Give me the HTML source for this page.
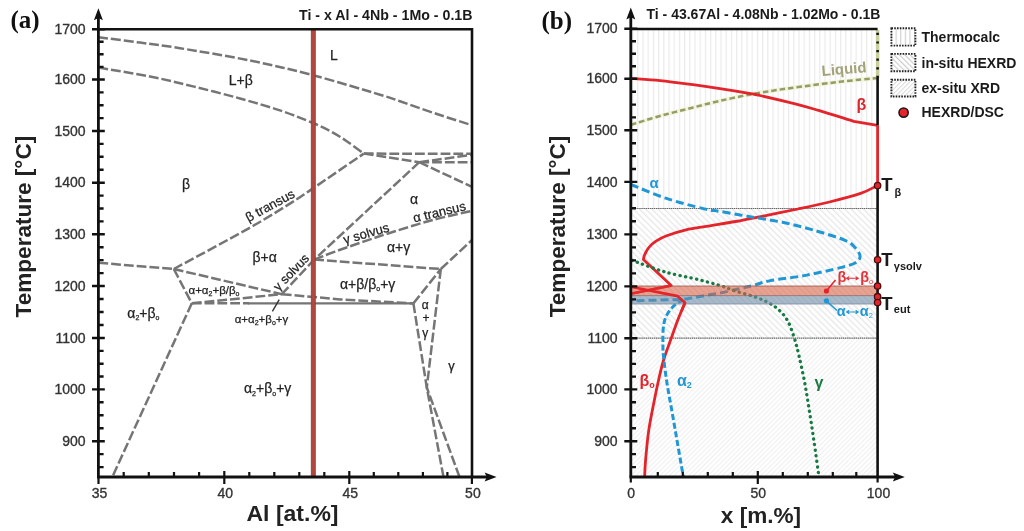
<!DOCTYPE html>
<html><head><meta charset="utf-8"><title>Phase diagram</title>
<style>html,body{margin:0;padding:0;background:#fff;width:1024px;height:531px;overflow:hidden} svg{display:block;will-change:transform}</style>
</head><body>
<svg width="1024" height="531" viewBox="0 0 1024 531">
<defs>
 <pattern id="hv" patternUnits="userSpaceOnUse" width="5.2" height="10" x="632">
   <rect x="0" y="0" width="1.2" height="10" fill="#ebebeb"/>
 </pattern>
 <pattern id="hd" patternUnits="userSpaceOnUse" width="4.4" height="4.4" patternTransform="rotate(-45)">
   <rect x="0" y="0" width="1.4" height="4.4" fill="#e9e9e9"/>
 </pattern>
 <pattern id="hx" patternUnits="userSpaceOnUse" width="3.4" height="3.4" patternTransform="rotate(45)">
   <rect x="0" y="0" width="1.1" height="3.4" fill="#efefef"/>
 </pattern>
 <pattern id="lv" patternUnits="userSpaceOnUse" width="4.6" height="10" x="891">
   <rect x="0" y="0" width="1.1" height="10" fill="#cfcfcf"/>
 </pattern>
 <pattern id="ld" patternUnits="userSpaceOnUse" width="3.8" height="3.8" patternTransform="rotate(-45)">
   <rect x="0" y="0" width="1.2" height="3.8" fill="#cdcdcd"/>
 </pattern>
 <pattern id="lx" patternUnits="userSpaceOnUse" width="3.2" height="3.2" patternTransform="rotate(45)">
   <rect x="0" y="0" width="1" height="3.2" fill="#dadada"/>
 </pattern>
</defs>
<text x="10.5" y="27.5" font-family="'Liberation Serif', serif" font-weight="bold" font-size="25" fill="#111">(a)</text>
<text x="472.5" y="19.5" text-anchor="end" font-family="'Liberation Sans', sans-serif" font-weight="bold" font-size="14.2" fill="#1a1a1a">Ti - x Al - 4Nb - 1Mo - 0.1B</text>
<path d="M98.4,37.2 C105.3,38.1 126.4,40.8 140,42.6 C153.6,44.4 161.7,45.2 180,48.2 C198.3,51.2 227.8,56 250,60.5 C272.2,65 291.3,69.5 313,75.2 C334.7,80.9 365.5,90.4 380,94.7 C394.5,99 390.4,98 400,101.3 C409.6,104.6 425.7,110.3 437.7,114.3 C449.7,118.3 466.3,123.4 472,125.2" fill="none" stroke="#757575" stroke-width="2.5" stroke-dasharray="9.8 3"/>
<path d="M98.4,67.6 C107,69.1 134.1,73.3 150,76.5 C165.9,79.7 179,82.9 194,86.6 C209,90.3 225.7,94.5 240,98.5 C254.3,102.5 267.8,106.3 280,110.4 C292.2,114.5 304.7,119.6 313,123 C321.3,126.4 324.5,128.1 330,131 C335.5,133.9 340.4,136.9 346,140.7 C351.6,144.5 360.8,151.4 363.8,153.6" fill="none" stroke="#757575" stroke-width="2.5" stroke-dasharray="9.8 3"/>
<path d="M173.8,269 C186.3,262.2 228.5,239.8 248.8,228.3 C269.1,216.8 285.1,206.6 295.8,199.9 C306.5,193.2 301.7,196.1 313,188.4 C324.3,180.7 355.3,159.4 363.8,153.6" fill="none" stroke="#757575" stroke-width="2.5" stroke-dasharray="9.8 3"/>
<path d="M363.8,153.6 L472,153.8" fill="none" stroke="#757575" stroke-width="2.5" stroke-dasharray="9.8 3"/>
<path d="M363.8,153.6 L419.3,162.2" fill="none" stroke="#757575" stroke-width="2.5" stroke-dasharray="9.8 3"/>
<path d="M419.3,162.2 L472,162.2" fill="none" stroke="#757575" stroke-width="2.5" stroke-dasharray="9.8 3"/>
<path d="M419.3,162.2 L472,154.8" fill="none" stroke="#757575" stroke-width="2.5" stroke-dasharray="9.8 3"/>
<path d="M419.3,162.2 L472,186.9" fill="none" stroke="#757575" stroke-width="2.5" stroke-dasharray="9.8 3"/>
<path d="M419.3,162.2 L314.2,259.6" fill="none" stroke="#757575" stroke-width="2.5" stroke-dasharray="9.8 3"/>
<path d="M314.2,259.6 C317.7,258.3 326.5,254.7 335,251.6 C343.5,248.5 355,244.5 365,241.1 C375,237.7 383.5,234.9 395,231.3 C406.5,227.7 421.2,223 434,219.6 C446.8,216.2 465.7,212.3 472,210.9" fill="none" stroke="#757575" stroke-width="2.5" stroke-dasharray="9.8 3"/>
<path d="M314.2,259.6 L440.8,269" fill="none" stroke="#757575" stroke-width="2.5" stroke-dasharray="9.8 3"/>
<path d="M440.8,269 L472,240" fill="none" stroke="#757575" stroke-width="2.5" stroke-dasharray="9.8 3"/>
<path d="M440.8,269 L426.8,387.5 L459.5,477" fill="none" stroke="#757575" stroke-width="2.5" stroke-dasharray="9.8 3"/>
<path d="M413.4,303.4 L440.8,269" fill="none" stroke="#757575" stroke-width="2.5" stroke-dasharray="9.8 3"/>
<path d="M413.4,303.4 L426.8,387.5 L443.5,477" fill="none" stroke="#757575" stroke-width="2.5" stroke-dasharray="9.8 3"/>
<path d="M98.4,262.8 L173.8,269" fill="none" stroke="#757575" stroke-width="2.5" stroke-dasharray="9.8 3"/>
<path d="M173.8,269 L281.8,294.2" fill="none" stroke="#757575" stroke-width="2.5" stroke-dasharray="9.8 3"/>
<path d="M173.8,269 L191.8,303.3" fill="none" stroke="#757575" stroke-width="2.5" stroke-dasharray="9.8 3"/>
<path d="M191.8,303.3 L281.8,294.2" fill="none" stroke="#757575" stroke-width="2.5" stroke-dasharray="9.8 3"/>
<path d="M281.8,294.2 L314.2,259.6" fill="none" stroke="#757575" stroke-width="2.5" stroke-dasharray="9.8 3"/>
<path d="M281.8,294.2 L340,299.4 L413.4,303.4" fill="none" stroke="#757575" stroke-width="2.5" stroke-dasharray="9.8 3"/>
<path d="M191.8,303.3 L112.3,477" fill="none" stroke="#757575" stroke-width="2.5" stroke-dasharray="9.8 3"/>
<path d="M191.8,303.3 L249,303.3" fill="none" stroke="#757575" stroke-width="2.5" stroke-dasharray="9.8 3"/>
<path d="M248,303.3 L413.4,303.4" stroke="#757575" stroke-width="2.2" fill="none"/>
<path d="M272.4,311.4 L279.2,299.7" stroke="#333" stroke-width="1.4" fill="none"/>
<rect x="311.2" y="29.2" width="4.1" height="447.8" fill="#b0483f" stroke="#8a3631" stroke-width="0.7"/>
<path d="M98.4,477 L98.4,15" stroke="#111" stroke-width="2.8" fill="none"/>
<path d="M98.4,8.3 L102.9,20.3 L98.4,18 L93.9,20.3 Z" fill="#111"/>
<path d="M97,477 L490,477" stroke="#111" stroke-width="2.8" fill="none"/>
<path d="M496.6,477 L484.6,481.5 L486.9,477 L484.6,472.5 Z" fill="#111"/>
<path d="M98.4,29.2 L472,29.2 L472,477" stroke="#111" stroke-width="2.6" fill="none"/>
<path d="M92,29.2 L104.8,29.2 M92,79.5 L104.8,79.5 M92,131 L104.8,131 M92,182.7 L104.8,182.7 M92,234.3 L104.8,234.3 M92,286 L104.8,286 M92,338 L104.8,338 M92,389.4 L104.8,389.4 M92,441.2 L104.8,441.2 M98.4,41.8 L103.6,41.8 M98.4,54.3 L103.6,54.3 M98.4,66.9 L103.6,66.9 M98.4,92.4 L103.6,92.4 M98.4,105.2 L103.6,105.2 M98.4,118.1 L103.6,118.1 M98.4,143.9 L103.6,143.9 M98.4,156.8 L103.6,156.8 M98.4,169.8 L103.6,169.8 M98.4,195.6 L103.6,195.6 M98.4,208.5 L103.6,208.5 M98.4,221.4 L103.6,221.4 M98.4,247.2 L103.6,247.2 M98.4,260.1 L103.6,260.1 M98.4,273.1 L103.6,273.1 M98.4,299 L103.6,299 M98.4,312 L103.6,312 M98.4,325 L103.6,325 M98.4,350.9 L103.6,350.9 M98.4,363.7 L103.6,363.7 M98.4,376.5 L103.6,376.5 M98.4,402.3 L103.6,402.3 M98.4,415.3 L103.6,415.3 M98.4,428.2 L103.6,428.2 M98.4,454.1 L103.6,454.1 M98.4,467.1 L103.6,467.1" stroke="#111" stroke-width="2.4" fill="none"/>
<path d="M224.3,471 L224.3,484 M349.3,471 L349.3,484 M98.5,477 L98.5,484 M471.9,477 L471.9,484 M123.7,477 L123.7,472 M148.8,477 L148.8,472 M174,477 L174,472 M199.1,477 L199.1,472 M249.3,477 L249.3,472 M274.3,477 L274.3,472 M299.3,477 L299.3,472 M324.3,477 L324.3,472 M373.8,477 L373.8,472 M398.3,477 L398.3,472 M422.9,477 L422.9,472 M447.4,477 L447.4,472" stroke="#111" stroke-width="2.2" fill="none"/>
<text x="85.6" y="33.8" text-anchor="end" font-family="'Liberation Sans', sans-serif" font-size="14" fill="#333" stroke="#333" stroke-width="0.35">1700</text>
<text x="85.6" y="84.1" text-anchor="end" font-family="'Liberation Sans', sans-serif" font-size="14" fill="#333" stroke="#333" stroke-width="0.35">1600</text>
<text x="85.6" y="135.6" text-anchor="end" font-family="'Liberation Sans', sans-serif" font-size="14" fill="#333" stroke="#333" stroke-width="0.35">1500</text>
<text x="85.6" y="187.3" text-anchor="end" font-family="'Liberation Sans', sans-serif" font-size="14" fill="#333" stroke="#333" stroke-width="0.35">1400</text>
<text x="85.6" y="238.9" text-anchor="end" font-family="'Liberation Sans', sans-serif" font-size="14" fill="#333" stroke="#333" stroke-width="0.35">1300</text>
<text x="85.6" y="290.6" text-anchor="end" font-family="'Liberation Sans', sans-serif" font-size="14" fill="#333" stroke="#333" stroke-width="0.35">1200</text>
<text x="85.6" y="342.6" text-anchor="end" font-family="'Liberation Sans', sans-serif" font-size="14" fill="#333" stroke="#333" stroke-width="0.35">1100</text>
<text x="85.6" y="394" text-anchor="end" font-family="'Liberation Sans', sans-serif" font-size="14" fill="#333" stroke="#333" stroke-width="0.35">1000</text>
<text x="85.6" y="445.8" text-anchor="end" font-family="'Liberation Sans', sans-serif" font-size="14" fill="#333" stroke="#333" stroke-width="0.35">900</text>
<text x="99.5" y="498.3" text-anchor="middle" font-family="'Liberation Sans', sans-serif" font-size="14" fill="#333" stroke="#333" stroke-width="0.35">35</text>
<text x="225.3" y="498.3" text-anchor="middle" font-family="'Liberation Sans', sans-serif" font-size="14" fill="#333" stroke="#333" stroke-width="0.35">40</text>
<text x="350.3" y="498.3" text-anchor="middle" font-family="'Liberation Sans', sans-serif" font-size="14" fill="#333" stroke="#333" stroke-width="0.35">45</text>
<text x="472.9" y="498.3" text-anchor="middle" font-family="'Liberation Sans', sans-serif" font-size="14" fill="#333" stroke="#333" stroke-width="0.35">50</text>
<text x="292.5" y="521" text-anchor="middle" textLength="92" lengthAdjust="spacingAndGlyphs" font-family="'Liberation Sans', sans-serif" font-weight="bold" font-size="22" fill="#222">Al [at.%]</text>
<text transform="translate(31,226.6) rotate(-90)" text-anchor="middle" textLength="181.6" lengthAdjust="spacingAndGlyphs" font-family="'Liberation Sans', sans-serif" font-weight="bold" font-size="21.5" fill="#222">Temperature [°C]</text>
<text x="330" y="60.2" font-family="'Liberation Sans', sans-serif" fill="#222" stroke="#222" stroke-width="0.25" font-size="14">L</text>
<text x="228.8" y="85.2" font-family="'Liberation Sans', sans-serif" fill="#222" stroke="#222" stroke-width="0.25" font-size="14">L+β</text>
<text x="182" y="188.5" font-family="'Liberation Sans', sans-serif" fill="#222" stroke="#222" stroke-width="0.25" font-size="14">β</text>
<text x="252.5" y="261.6" font-family="'Liberation Sans', sans-serif" fill="#222" stroke="#222" stroke-width="0.25" font-size="14">β+α</text>
<text x="410" y="204" font-family="'Liberation Sans', sans-serif" fill="#222" stroke="#222" stroke-width="0.25" font-size="14">α</text>
<text x="387" y="251.8" font-family="'Liberation Sans', sans-serif" fill="#222" stroke="#222" stroke-width="0.25" font-size="14">α+γ</text>
<text x="451.5" y="370" text-anchor="middle" font-family="'Liberation Sans', sans-serif" fill="#222" stroke="#222" stroke-width="0.25" font-size="13">γ</text>
<text x="425.3" y="308.5" text-anchor="middle" font-family="'Liberation Sans', sans-serif" fill="#222" stroke="#222" stroke-width="0.25" font-size="12">α</text>
<text x="425.9" y="322" text-anchor="middle" font-family="'Liberation Sans', sans-serif" fill="#222" stroke="#222" stroke-width="0.25" font-size="12">+</text>
<text x="425.3" y="337" text-anchor="middle" font-family="'Liberation Sans', sans-serif" fill="#222" stroke="#222" stroke-width="0.25" font-size="12">γ</text>
<text x="127.3" y="317.6" font-family="'Liberation Sans', sans-serif" fill="#222" stroke="#222" stroke-width="0.25" font-size="14">α<tspan font-size="7" dy="2.5">2</tspan><tspan dy="-2.5">+β</tspan><tspan font-size="7" dy="2.5">o</tspan></text>
<text x="244" y="393.4" font-family="'Liberation Sans', sans-serif" fill="#222" stroke="#222" stroke-width="0.25" font-size="14">α<tspan font-size="7" dy="2.5">2</tspan><tspan dy="-2.5">+β</tspan><tspan font-size="7" dy="2.5">o</tspan><tspan dy="-2.5">+γ</tspan></text>
<text x="340" y="288.6" font-family="'Liberation Sans', sans-serif" fill="#222" stroke="#222" stroke-width="0.25" font-size="14">α+β/β<tspan font-size="7" dy="2.5">o</tspan><tspan dy="-2.5">+γ</tspan></text>
<text x="188.5" y="294.2" font-family="'Liberation Sans', sans-serif" fill="#222" stroke="#222" stroke-width="0.25" font-size="11.5">α+α<tspan font-size="7" dy="2">2</tspan><tspan dy="-2">+β/β</tspan><tspan font-size="7" dy="2">o</tspan></text>
<text x="234.7" y="323" font-family="'Liberation Sans', sans-serif" fill="#222" stroke="#222" stroke-width="0.25" font-size="11.5">α+α<tspan font-size="7" dy="2">2</tspan><tspan dy="-2">+β</tspan><tspan font-size="7" dy="2">o</tspan><tspan dy="-2">+γ</tspan></text>
<text transform="translate(248.5,222.2) rotate(-28.5)" font-family="'Liberation Sans', sans-serif" fill="#222" stroke="#222" stroke-width="0.25" font-size="13">β transus</text>
<text transform="translate(414.2,222.6) rotate(-13.5)" font-family="'Liberation Sans', sans-serif" fill="#222" stroke="#222" stroke-width="0.25" font-size="13">α transus</text>
<text transform="translate(344.8,244.2) rotate(-16)" font-family="'Liberation Sans', sans-serif" fill="#222" stroke="#222" stroke-width="0.25" font-size="13">γ solvus</text>
<text transform="translate(278.6,291.6) rotate(-46)" font-family="'Liberation Sans', sans-serif" fill="#222" stroke="#222" stroke-width="0.25" font-size="12.5">γ solvus</text>
<rect x="630.8" y="29" width="246.80000000000007" height="179.5" fill="url(#hv)"/>
<rect x="630.8" y="208.5" width="246.80000000000007" height="129.7" fill="url(#hd)"/>
<rect x="630.8" y="338.2" width="246.80000000000007" height="138.8" fill="url(#hx)"/>
<path d="M630.8,208.5 L877.6,208.5 M630.8,338.2 L877.6,338.2" stroke="#666" stroke-width="1.2" stroke-dasharray="1.5 0.6" fill="none"/>
<path d="M631,124.8 C635.8,123.3 650.1,118.8 660,116 C669.9,113.2 680.3,110.7 690.3,108.2 C700.3,105.7 710,103.1 720,100.8 C730,98.5 742.5,96 750.5,94.4 C758.5,92.8 759.8,92.7 768,91.4 C776.2,90.1 788,88.4 800,86.8 C812,85.2 827.1,83.3 840,81.8 C852.9,80.3 871.3,78.6 877.6,78" fill="none" stroke="#f2f4dc" stroke-width="4.4"/>
<path d="M631,124.8 C635.8,123.3 650.1,118.8 660,116 C669.9,113.2 680.3,110.7 690.3,108.2 C700.3,105.7 710,103.1 720,100.8 C730,98.5 742.5,96 750.5,94.4 C758.5,92.8 759.8,92.7 768,91.4 C776.2,90.1 788,88.4 800,86.8 C812,85.2 827.1,83.3 840,81.8 C852.9,80.3 871.3,78.6 877.6,78" fill="none" stroke="#949c68" stroke-width="2.5" stroke-dasharray="5.5 3"/>
<path d="M877.6,78 L877.6,30" stroke="#c9cf9c" stroke-width="3.5" fill="none"/>
<path d="M877.6,78 L877.6,30" stroke="#111" stroke-width="2.6" stroke-dasharray="2.2 6.4" fill="none"/>
<path d="M631,78.4 C635.8,78.8 649.4,79.5 660,80.6 C670.6,81.7 684.8,83.6 694.8,84.9 C704.8,86.2 710.7,87.1 720,88.6 C729.3,90 743.8,92.4 750.5,93.6 C757.2,94.8 752.5,93.8 760,95.5 C767.5,97.2 785.4,101.3 795.2,103.8 C805,106.3 808.8,107.5 818.6,110.4 C828.4,113.3 847.9,119.5 853.8,121.3 L877.6,125.4" fill="none" stroke="#e4242b" stroke-width="2.8"/>
<path d="M877.6,125.3 L877.6,185.6" stroke="#e4242b" stroke-width="2.8"/>
<path d="M877.2,185.6 C874.4,186.9 868.6,190.7 860.6,193.4 C852.6,196.1 839.8,199.4 829.4,202 C819,204.6 808.4,206.8 798,209 C787.6,211.2 777.3,213.2 766.9,215.3 C756.5,217.4 745.1,219.8 735.6,221.5 C726.1,223.2 718.3,224.4 710,225.8 C701.7,227.2 693.3,228.1 686,229.8 C678.7,231.5 671,234.1 666,236 C661,237.9 658.7,239.4 656,241.2 C653.3,243 651.3,244.8 649.6,246.6 C647.9,248.4 646.9,250.4 646,252 C645.1,253.6 644.6,254.8 644.2,256 C643.8,257.2 643.5,258.8 643.4,259.4 L671.2,285.6 L632,293.5" fill="none" stroke="#e4242b" stroke-width="2.8" stroke-linejoin="round"/>
<path d="M685,302.7 C683.8,305.6 680.2,313.8 677.8,320 C675.4,326.2 673,333.3 670.6,340 C668.2,346.7 665.6,353.3 663.6,360 C661.6,366.7 660.1,373.3 658.6,380 C657.1,386.7 656,391.7 654.4,400 C652.8,408.3 650.3,420 648.8,430 C647.3,440 646.3,452.2 645.6,460 C644.9,467.8 644.8,474.2 644.6,477" fill="none" stroke="#e4242b" stroke-width="2.8"/>
<path d="M631,184.5 C636.8,186.8 653.7,194.2 665.7,198.2 C677.8,202.2 694.2,206.4 703.3,208.6 C712.3,210.8 712,210 720,211.4 C728,212.8 740.9,215.1 751.3,216.9 C761.7,218.7 772.1,220.1 782.5,222.3 C792.9,224.5 803.4,227.2 813.8,230.2 C824.2,233.2 838.1,237.4 845,240.3 C851.9,243.2 852.5,244.9 855,247.5 C857.5,250.1 859.8,253.3 860,255.8 C860.2,258.3 859.2,260.5 856,262.5 C852.8,264.5 849,265.5 840.6,267.6 C832.2,269.8 817.2,273.2 805.5,275.4 C793.8,277.6 779.4,278.8 770.3,280.6 C761.2,282.4 758.3,284.2 751,286 C743.7,287.8 735.1,289.9 726.6,291.6 C718.1,293.4 707.2,295.2 700,296.5 C692.8,297.8 686.2,298.9 683.4,299.4 L632,300.8" fill="none" stroke="#1f97d4" stroke-width="3" stroke-dasharray="8 4"/>
<path d="M683.4,300 C682.2,300.7 678.6,301.8 676,304 C673.4,306.2 670.1,309.5 668,313 C665.9,316.5 664.5,319.7 663.6,325 C662.8,330.3 662.9,339.2 662.9,345 C662.9,350.8 663.3,354.2 663.9,360 C664.5,365.8 665.5,373.3 666.5,380 C667.5,386.7 668.4,391.7 669.9,400 C671.4,408.3 673.5,420 675.2,430 C677,440 679,452.2 680.4,460 C681.8,467.8 682.9,474.2 683.4,477" fill="none" stroke="#1f97d4" stroke-width="3" stroke-dasharray="6 2.8"/>
<path d="M632,260.4 C637.4,262.3 653.5,268.6 664.6,271.8 C675.7,275 689.6,277.4 698.8,279.7 C708,282 713.9,283.7 720,285.6 C726.1,287.5 729.8,289.2 735.2,291 C740.7,292.8 747.4,294.4 752.7,296.2 C758,298 762.8,299.7 767.2,302 C771.6,304.3 775.5,306.8 779,310 C782.5,313.2 785.5,316.8 788,321.5 C790.5,326.2 792.5,332.4 794.3,338 C796.1,343.6 797.1,348 798.8,355 C800.4,362 802.5,371.3 804.2,380 C805.9,388.7 807.2,397.3 808.8,407.3 C810.4,417.3 812.1,428.4 813.8,440 C815.5,451.6 818.1,470.8 819,477" fill="none" stroke="#187a42" stroke-width="3.3" stroke-dasharray="0.2 5.4" stroke-linecap="round"/>
<rect x="630.8" y="286" width="246.80000000000007" height="9.6" fill="rgb(217,100,72)" fill-opacity="0.6"/>
<rect x="630.8" y="295.6" width="246.80000000000007" height="8.4" fill="rgb(110,140,165)" fill-opacity="0.6"/>
<path d="M630.8,286 L877.6,286" stroke="#9a5548" stroke-width="1" opacity="0.8"/>
<path d="M630.8,295.6 L877.6,295.6" stroke="#8a6060" stroke-width="1" opacity="0.7"/>
<path d="M630.8,304 L877.6,304" stroke="#7a8aa0" stroke-width="1" opacity="0.8"/>
<path d="M671.2,285.6 L632,293.5" fill="none" stroke="#e4242b" stroke-width="2.6" opacity="0.85"/>
<path d="M632,287 L677.7,296.2 L685,302.7 L681.5,311" fill="none" stroke="#e4242b" stroke-width="2.8" stroke-linejoin="round"/>
<path d="M826.4,291 L835.5,280" stroke="#e4242b" stroke-width="1.6"/>
<circle cx="826.4" cy="291" r="2.6" fill="#e4242b"/>
<path d="M826.4,300.8 L837,310.5" stroke="#1f97d4" stroke-width="1.6"/>
<circle cx="826.4" cy="300.8" r="2.6" fill="#1f97d4"/>
<path d="M630.8,477 L630.8,14" stroke="#111" stroke-width="2.8" fill="none"/>
<path d="M630.8,7.5 L635.3,19.5 L630.8,17.2 L626.3,19.5 Z" fill="#111"/>
<path d="M629.5,477 L898,477" stroke="#111" stroke-width="2.8" fill="none"/>
<path d="M904.8,477 L892.8,481.5 L895.1,477 L892.8,472.5 Z" fill="#111"/>
<path d="M630.8,29 L877.6,29" stroke="#111" stroke-width="2.6" fill="none"/>
<path d="M877.6,78 L877.6,125.3 M877.6,185.6 L877.6,477" stroke="#111" stroke-width="2.6" fill="none"/>
<path d="M624.3,28.8 L637.3,28.8 M624.3,78.8 L637.3,78.8 M624.3,130.3 L637.3,130.3 M624.3,181.9 L637.3,181.9 M624.3,234.4 L637.3,234.4 M624.3,286.4 L637.3,286.4 M624.3,338.3 L637.3,338.3 M624.3,389.4 L637.3,389.4 M624.3,441.2 L637.3,441.2 M630.8,41.3 L636,41.3 M630.8,53.8 L636,53.8 M630.8,66.3 L636,66.3 M630.8,91.7 L636,91.7 M630.8,104.6 L636,104.6 M630.8,117.4 L636,117.4 M630.8,143.2 L636,143.2 M630.8,156.1 L636,156.1 M630.8,169 L636,169 M630.8,195 L636,195 M630.8,208.2 L636,208.2 M630.8,221.3 L636,221.3 M630.8,247.4 L636,247.4 M630.8,260.4 L636,260.4 M630.8,273.4 L636,273.4 M630.8,299.4 L636,299.4 M630.8,312.4 L636,312.4 M630.8,325.3 L636,325.3 M630.8,351.1 L636,351.1 M630.8,363.9 L636,363.9 M630.8,376.6 L636,376.6 M630.8,402.3 L636,402.3 M630.8,415.3 L636,415.3 M630.8,428.2 L636,428.2 M630.8,454.1 L636,454.1 M630.8,467.1 L636,467.1" stroke="#111" stroke-width="2.4" fill="none"/>
<path d="M630.8,477 L630.8,482.5 M657.8,477 L657.8,472 M682.8,477 L682.8,472 M707.8,477 L707.8,472 M732.8,477 L732.8,472 M757.8,471 L757.8,484 M782.8,477 L782.8,472 M807.8,477 L807.8,472 M832.8,477 L832.8,472 M856.3,477 L856.3,472 M877.6,477 L877.6,482.5" stroke="#111" stroke-width="2.2" fill="none"/>
<text x="617.6" y="33.4" text-anchor="end" font-family="'Liberation Sans', sans-serif" font-size="14" fill="#333" stroke="#333" stroke-width="0.35">1700</text>
<text x="617.6" y="83.4" text-anchor="end" font-family="'Liberation Sans', sans-serif" font-size="14" fill="#333" stroke="#333" stroke-width="0.35">1600</text>
<text x="617.6" y="134.9" text-anchor="end" font-family="'Liberation Sans', sans-serif" font-size="14" fill="#333" stroke="#333" stroke-width="0.35">1500</text>
<text x="617.6" y="186.5" text-anchor="end" font-family="'Liberation Sans', sans-serif" font-size="14" fill="#333" stroke="#333" stroke-width="0.35">1400</text>
<text x="617.6" y="239" text-anchor="end" font-family="'Liberation Sans', sans-serif" font-size="14" fill="#333" stroke="#333" stroke-width="0.35">1300</text>
<text x="617.6" y="291" text-anchor="end" font-family="'Liberation Sans', sans-serif" font-size="14" fill="#333" stroke="#333" stroke-width="0.35">1200</text>
<text x="617.6" y="342.9" text-anchor="end" font-family="'Liberation Sans', sans-serif" font-size="14" fill="#333" stroke="#333" stroke-width="0.35">1100</text>
<text x="617.6" y="394" text-anchor="end" font-family="'Liberation Sans', sans-serif" font-size="14" fill="#333" stroke="#333" stroke-width="0.35">1000</text>
<text x="617.6" y="445.8" text-anchor="end" font-family="'Liberation Sans', sans-serif" font-size="14" fill="#333" stroke="#333" stroke-width="0.35">900</text>
<text x="631.1" y="498.3" text-anchor="middle" font-family="'Liberation Sans', sans-serif" font-size="14" fill="#333" stroke="#333" stroke-width="0.35">0</text>
<text x="758.3" y="498.3" text-anchor="middle" font-family="'Liberation Sans', sans-serif" font-size="14" fill="#333" stroke="#333" stroke-width="0.35">50</text>
<text x="878.5" y="498.3" text-anchor="middle" font-family="'Liberation Sans', sans-serif" font-size="14" fill="#333" stroke="#333" stroke-width="0.35">100</text>
<text x="761" y="522.8" text-anchor="middle" textLength="80.3" lengthAdjust="spacingAndGlyphs" font-family="'Liberation Sans', sans-serif" font-weight="bold" font-size="22" fill="#222">x [m.%]</text>
<text transform="translate(565.1,226.5) rotate(-90)" text-anchor="middle" textLength="181.6" lengthAdjust="spacingAndGlyphs" font-family="'Liberation Sans', sans-serif" font-weight="bold" font-size="21.5" fill="#222">Temperature [°C]</text>
<text x="541.5" y="28.5" font-family="'Liberation Serif', serif" font-weight="bold" font-size="25" fill="#111">(b)</text>
<text x="646.5" y="19" font-family="'Liberation Sans', sans-serif" font-weight="bold" font-size="14" fill="#1a1a1a">Ti - 43.67Al - 4.08Nb - 1.02Mo - 0.1B</text>
<circle cx="877.6" cy="185.5" r="3.2" fill="#e0262c" stroke="#4a0c0c" stroke-width="1.3"/>
<circle cx="877.6" cy="259.8" r="3.2" fill="#e0262c" stroke="#4a0c0c" stroke-width="1.3"/>
<circle cx="877.6" cy="286" r="3.2" fill="#e0262c" stroke="#4a0c0c" stroke-width="1.3"/>
<circle cx="877.6" cy="296.7" r="3.2" fill="#e0262c" stroke="#4a0c0c" stroke-width="1.3"/>
<circle cx="877.6" cy="302.5" r="3.2" fill="#e0262c" stroke="#4a0c0c" stroke-width="1.3"/>
<text x="881.3" y="191.2" font-family="'Liberation Sans', sans-serif" font-weight="bold" fill="#1a1a1a" font-size="18.5">T<tspan font-size="11" dx="1.8" dy="5">β</tspan></text>
<text x="881.3" y="265.5" font-family="'Liberation Sans', sans-serif" font-weight="bold" fill="#1a1a1a" font-size="18.5">T<tspan font-size="11" dx="1.2" dy="4.5">γsolv</tspan></text>
<text x="881.3" y="309.8" font-family="'Liberation Sans', sans-serif" font-weight="bold" fill="#1a1a1a" font-size="18.5">T<tspan font-size="11" dx="1.2" dy="3">eut</tspan></text>
<text transform="translate(822,76) rotate(-5)" font-family="'Liberation Sans', sans-serif" font-weight="bold" font-size="15" fill="#a3a377">Liquid</text>
<text x="856.5" y="110.2" font-family="'Liberation Sans', sans-serif" font-weight="bold" font-size="16" fill="#d8262c">β</text>
<text x="649.5" y="187.5" font-family="'Liberation Sans', sans-serif" font-weight="bold" font-size="15" fill="#1f97d4">α</text>
<text x="837.5" y="282" font-family="'Liberation Sans', sans-serif" font-weight="bold" font-size="14.5" fill="#e0333a">β</text>
<text x="860.2" y="282" font-family="'Liberation Sans', sans-serif" font-weight="bold" font-size="14.5" fill="#e0333a">β<tspan font-size="7.5" font-weight="normal" dy="1.5">o</tspan></text>
<path d="M847,278.3 L857.8,278.3 M849.2,276.6 L846.6,278.3 L849.2,280 M855.6,276.6 L858.2,278.3 L855.6,280" stroke="#e0333a" stroke-width="1.1" fill="none"/>
<text x="836.8" y="315.5" font-family="'Liberation Sans', sans-serif" font-weight="bold" font-size="14.5" fill="#1f97d4">α</text>
<text x="859.8" y="315.5" font-family="'Liberation Sans', sans-serif" font-weight="bold" font-size="14.5" fill="#1f97d4">α<tspan font-size="7.5" font-weight="normal" dy="2">2</tspan></text>
<path d="M847,312 L857.8,312 M849.2,310.3 L846.6,312 L849.2,313.7 M855.6,310.3 L858.2,312 L855.6,313.7" stroke="#1f97d4" stroke-width="1.1" fill="none"/>
<text x="639.5" y="386" font-family="'Liberation Sans', sans-serif" font-weight="bold" font-size="16" fill="#e4242b">β<tspan font-size="9" dy="2">o</tspan></text>
<text x="677" y="386" font-family="'Liberation Sans', sans-serif" font-weight="bold" font-size="16" fill="#1f97d4">α<tspan font-size="9" dy="2">2</tspan></text>
<text x="814.5" y="388" font-family="'Liberation Sans', sans-serif" font-weight="bold" font-size="16" fill="#187a42">γ</text>
<rect x="891.4" y="28.2" width="24" height="17.400000000000002" fill="url(#lv)" stroke="#222" stroke-width="1.9" stroke-dasharray="1.6 1.2"/>
<rect x="891.4" y="53.9" width="24" height="17.300000000000004" fill="url(#ld)" stroke="#222" stroke-width="1.9" stroke-dasharray="1.6 1.2"/>
<rect x="891.4" y="79.8" width="24" height="16.700000000000003" fill="url(#lx)" stroke="#222" stroke-width="1.9" stroke-dasharray="1.6 1.2"/>
<text x="921.5" y="41.6" font-family="'Liberation Sans', sans-serif" font-weight="bold" font-size="14" fill="#1a1a1a">Thermocalc</text>
<text x="921.5" y="67.6" font-family="'Liberation Sans', sans-serif" font-weight="bold" font-size="14" fill="#1a1a1a">in-situ HEXRD</text>
<text x="921.5" y="93.3" font-family="'Liberation Sans', sans-serif" font-weight="bold" font-size="14" fill="#1a1a1a">ex-situ XRD</text>
<text x="921.5" y="117.4" font-family="'Liberation Sans', sans-serif" font-weight="bold" font-size="14" fill="#1a1a1a">HEXRD/DSC</text>
<circle cx="903.6" cy="112.6" r="4.6" fill="#e8232b" stroke="#1a1a1a" stroke-width="1.6"/></svg>
</body></html>
